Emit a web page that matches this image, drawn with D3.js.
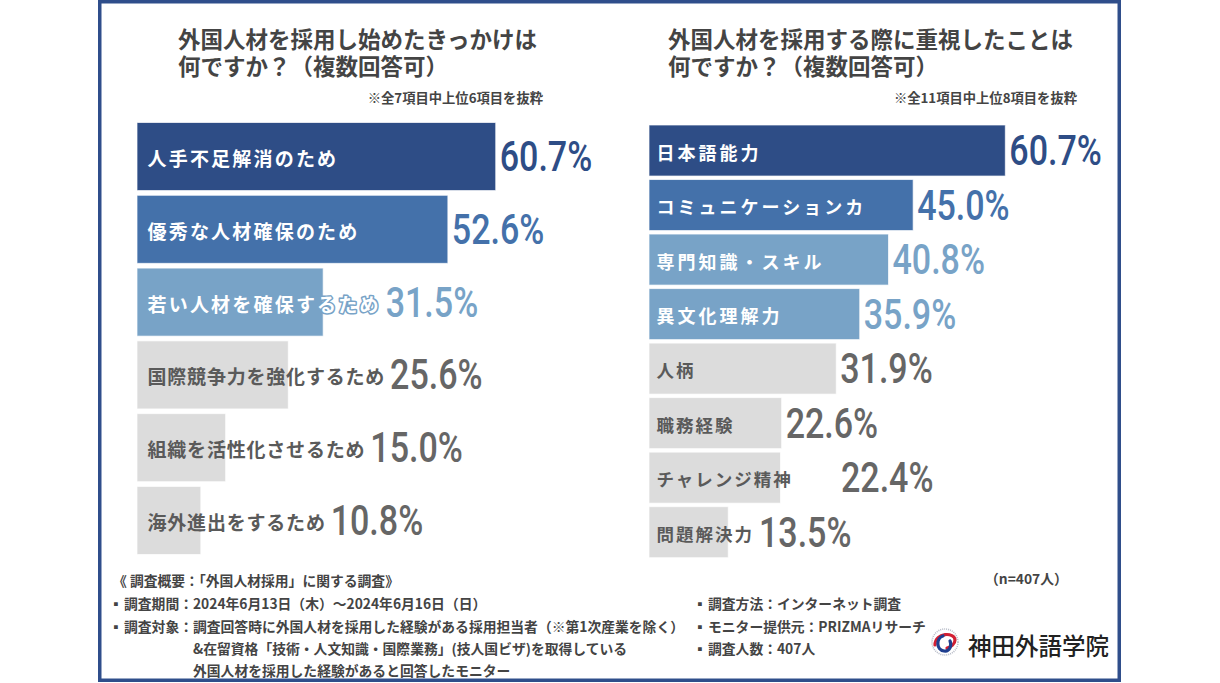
<!DOCTYPE html>
<html><head><meta charset="utf-8">
<script src="https://cdn.jsdelivr.net/npm/d3@7"></script>
<style>
body{margin:0;background:#fff}
svg{display:block}
text{font-family:"Noto Sans CJK JP","Noto Sans",sans-serif}
</style>
</head><body>
<svg id="chart" width="1220" height="683"></svg>
<script>
// ---------- data ----------
const leftTitle = ["外国人材を採用し始めたきっかけは", "何ですか？（複数回答可）"];
const leftNote = "※全7項目中上位6項目を抜粋";
const leftCategories = ["人手不足解消のため", "優秀な人材確保のため", "若い人材を確保するため", "国際競争力を強化するため", "組織を活性化させるため", "海外進出をするため"];
const leftValues = [60.7, 52.6, 31.5, 25.6, 15.0, 10.8];

const rightTitle = ["外国人材を採用する際に重視したことは", "何ですか？（複数回答可）"];
const rightNote = "※全11項目中上位8項目を抜粋";
const rightCategories = ["日本語能力", "コミュニケーションカ", "専門知識・スキル", "異文化理解力", "人柄", "職務経験", "チャレンジ精神", "問題解決力"];
const rightValues = [60.7, 45.0, 40.8, 35.9, 31.9, 22.6, 22.4, 13.5];

const footerLeft = [
  "《 調査概要：「外国人材採用」に関する調査》",
  "▪ 調査期間：2024年6月13日（木）～2024年6月16日（日）",
  "▪ 調査対象：調査回答時に外国人材を採用した経験がある採用担当者（※第1次産業を除く）",
  "&在留資格「技術・人文知識・国際業務」(技人国ビザ)を取得している",
  "外国人材を採用した経験があると回答したモニター"
];
const footerRight = ["▪ 調査方法：インターネット調査", "▪ モニター提供元：PRIZMAリサーチ", "▪ 調査人数：407人"];
const sampleNote = "（n=407人）";
const logoText = "神田外語学院";

// ---------- styles ----------
const palette = {navy: "#2e4d86", mid: "#4471aa", light: "#78a3c7", gray: "#dcdcdc"};
const leftTones = ["navy", "mid", "light", "gray", "gray", "gray"];
const rightTones = ["navy", "mid", "light", "light", "gray", "gray", "gray", "gray"];
const textDark = "#444";
const grayLabel = "#5a5a5a";
const grayValue = "#666";

const svg = d3.select("#chart");

// frame
svg.append("rect").attr("x", 99.75).attr("y", 1.75).attr("width", 1019.5).attr("height", 678.5)
  .attr("fill", "#fff").attr("stroke", "#2f4e8b").attr("stroke-width", 3.5);

function drawPanel(cfg) {
  const g = svg.append("g");
  // title (one text element, two lines)
  const tt = g.append("text").attr("font-size", 22.5).attr("font-weight", 700).attr("fill", textDark);
  cfg.title.forEach((t, i) => {
    tt.append("tspan").attr("x", cfg.titleX).attr("y", 48 + i * 27).text(t);
  });
  g.append("text").attr("x", cfg.noteX).attr("y", 97).attr("text-anchor", "end")
    .attr("dominant-baseline", "central").attr("font-size", 13.3).attr("font-weight", 700)
    .attr("fill", textDark).text(cfg.note);

  const x = d3.scaleLinear().domain([0, 100]).range([cfg.x0, cfg.x0 + cfg.pxPer100]);
  const y = d3.scaleBand().domain(cfg.categories).range(cfg.yRange).paddingInner(cfg.pad).paddingOuter(0);
  const data = cfg.categories.map((c, i) => ({c, v: cfg.values[i], tone: cfg.tones[i], i}));

  g.selectAll("rect.bar").data(data).join("rect").attr("class", "bar")
    .attr("x", x(0)).attr("y", d => y(d.c))
    .attr("width", d => x(d.v) - x(0)).attr("height", y.bandwidth())
    .attr("fill", d => palette[d.tone])
    .attr("stroke", "rgba(255,255,255,0.7)").attr("stroke-width", 1);

  const labels = g.selectAll("text.lab").data(data).join("text").attr("class", "lab")
    .attr("x", cfg.labelX).attr("y", d => y(d.c) + y.bandwidth() / 2 + 1)
    .attr("dominant-baseline", "central")
    .attr("font-weight", 700)
    .attr("font-size", d => d.tone === "gray" ? cfg.grayFs : cfg.blueFs)
    .attr("letter-spacing", d => d.tone === "gray" ? cfg.grayLs : cfg.blueLs)
    .attr("fill", d => d.tone === "gray" ? grayLabel : "#fff")
    .attr("stroke", d => d.tone === "gray" ? "none" : palette[d.tone])
    .attr("stroke-width", 3).attr("stroke-linejoin", "round")
    .attr("paint-order", "stroke")
    .text(d => d.c);

  const labEnds = [];
  labels.each(function(d) { const b = this.getBBox(); labEnds[d.i] = b.x + b.width; });

  data.forEach(d => {
    let vx = Math.max(x(d.v) + 4, labEnds[d.i] + 5);
    if (cfg.valueMinX && cfg.valueMinX[d.i]) vx = Math.max(vx, cfg.valueMinX[d.i]);
    const cy = y(d.c) + y.bandwidth() / 2;
    g.append("text")
      .attr("transform", `translate(${vx},${cy + 14.5}) scale(0.81,1)`)
      .style("font-family", "Roboto, sans-serif")
      .attr("font-size", 42).attr("font-weight", 500)
      .attr("fill", d.tone === "gray" ? grayValue : palette[d.tone])
      .text(d.v.toFixed(1) + "%");
  });
}

drawPanel({
  title: leftTitle, note: leftNote, titleX: 178, noteX: 543,
  categories: leftCategories, values: leftValues, tones: leftTones,
  x0: 137, pxPer100: 591, yRange: [122.5, 554.5], pad: 0.065,
  labelX: 147.5, blueFs: 19, blueLs: 2.2, grayFs: 19, grayLs: 0.8
});
drawPanel({
  title: rightTitle, note: rightNote, titleX: 668, noteX: 1077,
  categories: rightCategories, values: rightValues, tones: rightTones,
  x0: 649, pxPer100: 587, yRange: [125, 557.7], pad: 0.064,
  labelX: 656.5, blueFs: 18, blueLs: 3, grayFs: 17.5, grayLs: 2,
  valueMinX: {6: 841}
});

// footer
const fg = svg.append("g").attr("font-size", 13.8).attr("font-weight", 700).attr("fill", textDark)
  .attr("dominant-baseline", "central");
const footYs = [580, 603, 626, 648, 670];
function footLine(t, x, y) {
  const el = fg.append("text").attr("y", y);
  if (t.startsWith("▪ ")) {
    el.append("tspan").attr("x", x - 4).text("▪");
    el.append("tspan").attr("x", x + 11).text(t.slice(2));
  } else {
    el.attr("x", x).text(t);
  }
}
footerLeft.forEach((t, i) => footLine(t, i >= 3 ? 193 : 113, footYs[i]));
footerRight.forEach((t, i) => footLine(t, 697, footYs[i + 1]));
fg.append("text").attr("x", 985).attr("y", 578).text(sampleNote);

// logo
const lg = svg.append("g").attr("transform", "translate(945,642)");
lg.append("circle").attr("r", 13).attr("fill", "none").attr("stroke", "#b8bcc8").attr("stroke-width", 1.6)
  .attr("stroke-dasharray", "1,1");
lg.append("path").attr("d", "M-10,3 C-10,-10 10,-10 10,-2 C10,2 6,5 2,6")
  .attr("fill", "none").attr("stroke", "#d21f33").attr("stroke-width", 3.2).attr("stroke-linecap", "round");
lg.append("path").attr("d", "M-2,-6 C-9,-4 -9,8 -1,9 C5,10 7,3 5,-1")
  .attr("fill", "none").attr("stroke", "#1f3f8f").attr("stroke-width", 3.2).attr("stroke-linecap", "round");
svg.append("text").attr("x", 968).attr("y", 645).attr("dominant-baseline", "central")
  .attr("font-size", 23.5).attr("font-weight", 500).attr("fill", "#222").text(logoText);
</script>
</body></html>
